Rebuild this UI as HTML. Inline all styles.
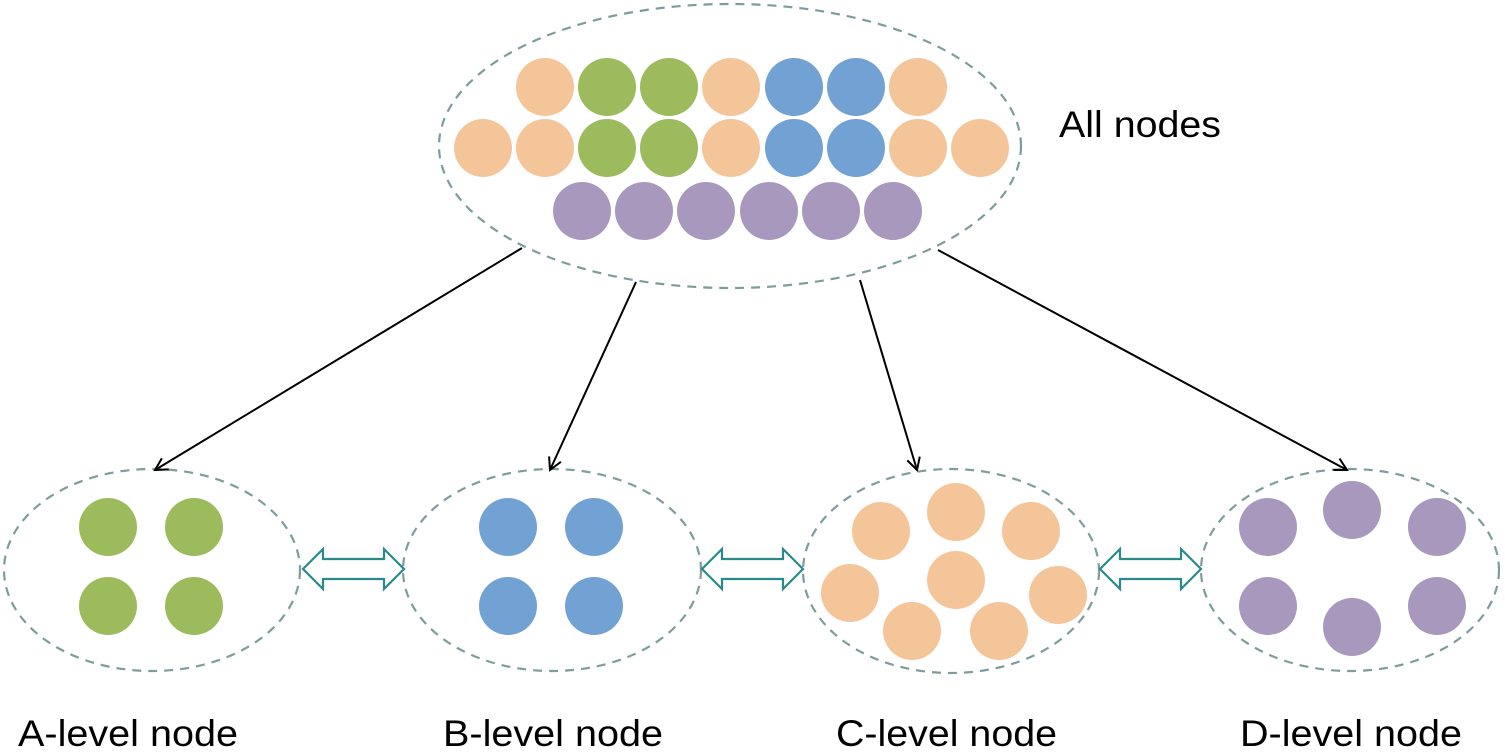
<!DOCTYPE html>
<html><head><meta charset="utf-8"><style>html,body{margin:0;padding:0;background:#fff}svg{display:block}</style></head>
<body>
<svg width="1505" height="752" viewBox="0 0 1505 752" xmlns="http://www.w3.org/2000/svg">
<defs>
<marker id="ah" markerWidth="16" markerHeight="16" refX="13" refY="8" orient="auto" markerUnits="userSpaceOnUse">
<path d="M1,1.5 L13,8 L1,14.5" fill="none" stroke="#000" stroke-width="2"/>
</marker>
<g id="dbl">
<path d="M0,0 L20,-20 L20,-10 L81,-10 L81,-20 L101,0 L81,20 L81,10 L20,10 L20,20 Z" fill="#fff" stroke="#2a8a8a" stroke-width="2.2" stroke-linejoin="miter"/>
</g>
</defs>
<g fill="none" stroke="#7f9c9c" stroke-width="2.2" stroke-dasharray="9,7">
<ellipse cx="730" cy="146" rx="291" ry="142"/>
<ellipse cx="152" cy="570" rx="148" ry="101"/>
<ellipse cx="552" cy="570" rx="149" ry="101"/>
<ellipse cx="951" cy="571" rx="148" ry="102"/>
<ellipse cx="1350" cy="570" rx="149" ry="101"/>
</g>
<g stroke="#000" stroke-width="2" marker-end="url(#ah)">
<line x1="522" y1="248" x2="155" y2="470"/>
<line x1="636" y1="282" x2="550" y2="470"/>
<line x1="860" y1="280" x2="917" y2="470"/>
<line x1="938" y1="250" x2="1347" y2="470"/>
</g>
<g>
<g fill="#f5c59a">
<circle cx="545" cy="87" r="29"/><circle cx="731" cy="87" r="29"/><circle cx="918" cy="87" r="29"/>
<circle cx="483" cy="148" r="29"/><circle cx="545" cy="148" r="29"/><circle cx="731" cy="148" r="29"/><circle cx="918" cy="148" r="29"/><circle cx="980" cy="148" r="29"/>
<circle cx="881" cy="531" r="29"/><circle cx="956" cy="512" r="29"/><circle cx="1031" cy="531" r="29"/>
<circle cx="850" cy="593" r="29"/><circle cx="956" cy="580" r="29"/><circle cx="1058" cy="595" r="29"/>
<circle cx="912" cy="631" r="29"/><circle cx="999" cy="631" r="29"/>
</g>
<g fill="#9bbb5d">
<circle cx="607" cy="87" r="29"/><circle cx="669" cy="87" r="29"/>
<circle cx="607" cy="148" r="29"/><circle cx="669" cy="148" r="29"/>
<circle cx="108" cy="527" r="29"/><circle cx="194" cy="527" r="29"/><circle cx="108" cy="606" r="29"/><circle cx="194" cy="606" r="29"/>
</g>
<g fill="#72a2d3">
<circle cx="794" cy="87" r="29"/><circle cx="856" cy="87" r="29"/>
<circle cx="794" cy="148" r="29"/><circle cx="856" cy="148" r="29"/>
<circle cx="508" cy="527" r="29"/><circle cx="594" cy="527" r="29"/><circle cx="508" cy="606" r="29"/><circle cx="594" cy="606" r="29"/>
</g>
<g fill="#a898be">
<circle cx="582" cy="211" r="29"/><circle cx="644" cy="211" r="29"/><circle cx="706" cy="211" r="29"/><circle cx="769" cy="211" r="29"/><circle cx="831" cy="211" r="29"/><circle cx="893" cy="211" r="29"/>
<circle cx="1268" cy="527" r="29"/><circle cx="1352" cy="510" r="29"/><circle cx="1437" cy="527" r="29"/>
<circle cx="1268" cy="606" r="29"/><circle cx="1352" cy="627" r="29"/><circle cx="1437" cy="606" r="29"/>
</g>
</g>
<use href="#dbl" x="303" y="569"/>
<use href="#dbl" x="702" y="569"/>
<use href="#dbl" x="1100" y="569"/>
<g font-family="Liberation Sans, Arial, sans-serif" font-size="37" fill="#000">
<text x="1059" y="137" textLength="162" lengthAdjust="spacingAndGlyphs">All nodes</text>
<text x="18" y="746" textLength="220" lengthAdjust="spacingAndGlyphs">A-level node</text>
<text x="443" y="746" textLength="220" lengthAdjust="spacingAndGlyphs">B-level node</text>
<text x="836" y="746" textLength="221" lengthAdjust="spacingAndGlyphs">C-level node</text>
<text x="1240" y="746" textLength="222" lengthAdjust="spacingAndGlyphs">D-level node</text>
</g>
</svg>
</body></html>
